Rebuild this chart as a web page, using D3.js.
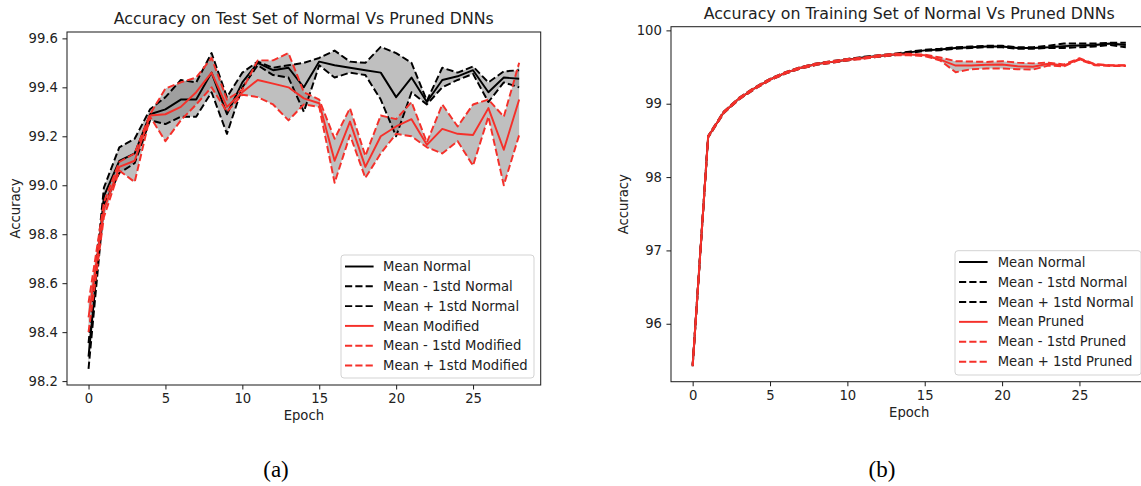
<!DOCTYPE html>
<html><head><meta charset="utf-8">
<script src="https://cdn.jsdelivr.net/npm/d3@7"></script>
<style>
body{margin:0;background:#fff;}
svg{display:block;font-family:"DejaVu Sans",sans-serif;}
</style></head><body>
<svg id="c" width="1141" height="486"></svg>
<script>
// ---------- DATA ----------
const epochs = [0,1,2,3,4,5,6,7,8,9,10,11,12,13,14,15,16,17,18,19,20,21,22,23,24,25,26,27,28];
const xTicks = [0,5,10,15,20,25];

// (a) Test set
const testYTicks = [98.2,98.4,98.6,98.8,99.0,99.2,99.4,99.6];
const testNormalMean  = [98.30,98.955,99.10,99.13,99.29,99.31,99.35,99.35,99.46,99.29,99.42,99.50,99.47,99.48,99.40,99.505,99.49,99.48,99.47,99.46,99.36,99.44,99.34,99.43,99.445,99.47,99.38,99.44,99.435];
const testNormalLower = [98.25,98.92,99.05,99.09,99.265,99.25,99.28,99.28,99.38,99.21,99.40,99.49,99.45,99.44,99.30,99.49,99.44,99.46,99.45,99.35,99.20,99.38,99.33,99.40,99.43,99.455,99.34,99.42,99.40];
const testNormalUpper = [98.355,98.99,99.155,99.19,99.31,99.36,99.43,99.42,99.54,99.36,99.46,99.505,99.48,99.49,99.50,99.52,99.55,99.505,99.50,99.565,99.54,99.50,99.345,99.48,99.46,99.485,99.42,99.465,99.47];
const testModMean  = [98.46,98.90,99.075,99.10,99.285,99.29,99.32,99.38,99.46,99.32,99.38,99.43,99.415,99.40,99.355,99.335,99.10,99.26,99.075,99.20,99.24,99.27,99.165,99.23,99.21,99.205,99.315,99.145,99.35];
const testModLower = [98.40,98.87,99.06,99.013,99.28,99.18,99.265,99.33,99.40,99.30,99.37,99.36,99.33,99.265,99.33,99.32,99.01,99.205,99.03,99.13,99.21,99.20,99.155,99.13,99.18,99.08,99.28,99.00,99.205];
const testModUpper = [98.52,98.93,99.095,99.13,99.29,99.395,99.42,99.44,99.52,99.35,99.39,99.51,99.51,99.54,99.38,99.35,99.19,99.315,99.12,99.285,99.27,99.34,99.175,99.33,99.24,99.33,99.35,99.28,99.50];

// (b) Training set
const trainYTicks = [96,97,98,99,100];
const trainNormalMean  = [95.43,98.55,98.88,99.07,99.21,99.33,99.42,99.49,99.54,99.57,99.60,99.63,99.65,99.67,99.70,99.727,99.74,99.76,99.77,99.78,99.78,99.76,99.76,99.77,99.785,99.795,99.80,99.82,99.80];
const trainNormalLower = [95.42,98.54,98.87,99.06,99.20,99.32,99.41,99.48,99.53,99.56,99.59,99.62,99.64,99.66,99.69,99.72,99.73,99.75,99.76,99.77,99.77,99.75,99.75,99.76,99.76,99.77,99.78,99.80,99.77];
const trainNormalUpper = [95.44,98.56,98.89,99.08,99.22,99.34,99.43,99.50,99.55,99.58,99.61,99.64,99.66,99.68,99.71,99.735,99.75,99.77,99.78,99.79,99.79,99.77,99.77,99.79,99.82,99.82,99.82,99.83,99.83];
const trainPrunedMean  = [95.43,98.55,98.88,99.07,99.21,99.33,99.42,99.49,99.54,99.57,99.60,99.62,99.65,99.67,99.67,99.66,99.60,99.52,99.52,99.53,99.535,99.51,99.505,99.545,99.52,99.61,99.535,99.52,99.52];
const trainPrunedLower = [95.42,98.54,98.87,99.06,99.20,99.32,99.41,99.48,99.53,99.56,99.59,99.61,99.64,99.66,99.66,99.65,99.59,99.43,99.47,99.48,99.48,99.47,99.465,99.52,99.51,99.60,99.525,99.515,99.515];
const trainPrunedUpper = [95.44,98.56,98.89,99.08,99.22,99.34,99.43,99.50,99.55,99.58,99.61,99.63,99.66,99.68,99.68,99.67,99.63,99.58,99.575,99.57,99.58,99.56,99.55,99.56,99.535,99.62,99.54,99.525,99.525];

const testLegend  = ["Mean Normal","Mean - 1std Normal","Mean + 1std Normal","Mean Modified","Mean - 1std Modified","Mean + 1std Modified"];
const trainLegend = ["Mean Normal","Mean - 1std Normal","Mean + 1std Normal","Mean Pruned","Mean - 1std Pruned","Mean + 1std Pruned"];

// ---------- DRAW ----------
const svg = d3.select("#c");
const TXT = "#222", RED = "#f5302a", LW = 1.95, DASH = "7.2,3.1";

function panel(cfg){
  const x = d3.scaleLinear().domain([-1.4,29.4]).range([cfg.left,cfg.right]);
  const y = d3.scaleLinear().domain(cfg.yDomain).range([cfg.bottom,cfg.top]);
  const g = svg.append("g");
  const area = (lo,hi)=> d3.area().x((d,i)=>x(epochs[i])).y0((d,i)=>y(lo[i])).y1((d,i)=>y(hi[i]))(epochs);
  const line = (arr)=> d3.line().x((d,i)=>x(epochs[i])).y((d,i)=>y(arr[i]))(epochs);

  g.append("path").attr("d",area(cfg.s[1],cfg.s[2])).attr("fill","#808080").attr("fill-opacity",0.5);
  g.append("path").attr("d",area(cfg.s[4],cfg.s[5])).attr("fill","#808080").attr("fill-opacity",0.5);

  const styles = [
    {c:"#000",d:null},{c:"#000",d:DASH},{c:"#000",d:DASH},
    {c:RED,d:null},{c:RED,d:DASH},{c:RED,d:DASH}];
  cfg.s.forEach((arr,k)=>{
    g.append("path").attr("d",line(arr)).attr("fill","none")
      .attr("stroke",styles[k].c).attr("stroke-width",LW)
      .attr("stroke-dasharray",styles[k].d).attr("stroke-linejoin","round");
  });

  // axes
  const ax = g.append("g").attr("transform",`translate(0,${cfg.bottom})`)
    .call(d3.axisBottom(x).tickValues(xTicks).tickSize(4.55).tickPadding(4.55).tickFormat(d3.format("d")));
  const ay = g.append("g").attr("transform",`translate(${cfg.left},0)`)
    .call(d3.axisLeft(y).tickValues(cfg.yTicks).tickSize(4.55).tickPadding(4.55).tickFormat(cfg.fmt));
  [ax,ay].forEach(a=>{
    a.select(".domain").remove();
    a.selectAll("line").attr("stroke","#222").attr("stroke-width",1.04);
    a.selectAll("text").attr("fill",TXT).style("font-size","13.2px").style("font-family","DejaVu Sans");
  });
  g.append("rect").attr("x",cfg.left).attr("y",cfg.top)
    .attr("width",cfg.right-cfg.left).attr("height",cfg.bottom-cfg.top)
    .attr("fill","none").attr("stroke","#222").attr("stroke-width",1.04);

  const cx = (cfg.left+cfg.right)/2;
  g.append("text").attr("x",cx).attr("y",cfg.top-8).attr("text-anchor","middle")
    .attr("fill",TXT).style("font-size","15.8px").text(cfg.title);
  g.append("text").attr("x",cx).attr("y",cfg.bottom+35).attr("text-anchor","middle")
    .attr("fill",TXT).style("font-size","13.2px").text("Epoch");
  const ym = (cfg.top+cfg.bottom)/2;
  g.append("text").attr("transform",`translate(${cfg.ylabX},${ym}) rotate(-90)`)
    .attr("text-anchor","middle").attr("dy","0.35em")
    .attr("fill",TXT).style("font-size","13.2px").text("Accuracy");

  // legend
  const L = cfg.legend;
  const lg = g.append("g");
  lg.append("rect").attr("x",L.x).attr("y",L.y).attr("width",L.w).attr("height",L.h)
    .attr("rx",3).attr("fill","#fff").attr("fill-opacity",0.8)
    .attr("stroke","#d3d3d3").attr("stroke-width",1);
  cfg.labels.forEach((lab,k)=>{
    const ry = L.row0 + k*L.step;
    lg.append("line").attr("x1",L.lx).attr("x2",L.lx+28.6).attr("y1",ry).attr("y2",ry)
      .attr("stroke",styles[k].c).attr("stroke-width",LW).attr("stroke-dasharray",styles[k].d);
    lg.append("text").attr("x",L.tx).attr("y",ry).attr("dy","0.35em")
      .attr("fill",TXT).style("font-size","13.2px").text(lab);
  });

  svg.append("text").attr("x",cfg.capX).attr("y",477).attr("text-anchor","middle")
    .style("font-family","'Liberation Serif','DejaVu Serif',serif").style("font-size","23px")
    .attr("fill","#000").text(cfg.caption);
}

panel({
  left:67, right:540.7, top:32, bottom:385, yDomain:[98.184,99.626],
  yTicks:testYTicks, fmt:d3.format(".1f"),
  s:[testNormalMean,testNormalLower,testNormalUpper,testModMean,testModLower,testModUpper],
  title:"Accuracy on Test Set of Normal Vs Pruned DNNs", ylabX:15.5,
  labels:testLegend,
  legend:{x:341,y:255,w:193,h:123,row0:266.5,step:19.8,lx:345,tx:383},
  capX:276, caption:"(a)"
});
panel({
  left:671, right:1147.5, top:26.7, bottom:381.7, yDomain:[95.21,100.05],
  yTicks:trainYTicks, fmt:d3.format("d"),
  s:[trainNormalMean,trainNormalLower,trainNormalUpper,trainPrunedMean,trainPrunedLower,trainPrunedUpper],
  title:"Accuracy on Training Set of Normal Vs Pruned DNNs", ylabX:623,
  labels:trainLegend,
  legend:{x:955,y:250.7,w:186,h:124.3,row0:262,step:19.95,lx:959,tx:997.7},
  capX:882, caption:"(b)"
});
</script>
</body></html>
